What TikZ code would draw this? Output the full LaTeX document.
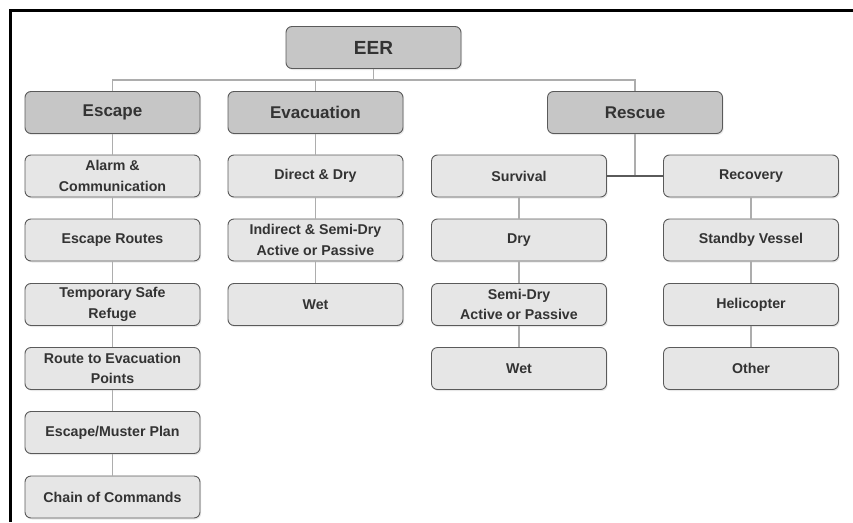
\documentclass[tikz,border=0pt]{standalone}
\usepackage{fontspec}
\setmainfont{Liberation Sans}
\usetikzlibrary{shadows}

\definecolor{headfill}{HTML}{C6C6C6}
\definecolor{itemfill}{HTML}{E6E6E6}
\definecolor{boxline}{HTML}{5A5A5A}
\definecolor{linkgray}{HTML}{ADADAD}
\definecolor{textgray}{HTML}{333333}

\tikzset{
  headbox/.style={draw=boxline, fill=headfill, rounded corners=6pt, line width=0.9pt,
    minimum width=175pt, minimum height=42pt, text=textgray,
    font=\fontsize{17}{20}\selectfont\bfseries,
    drop shadow={opacity=0.18, shadow xshift=1.2pt, shadow yshift=-1.5pt}},
  itembox/.style={draw=boxline, fill=itemfill, rounded corners=6pt, line width=0.9pt,
    minimum width=175pt, minimum height=42pt, text=textgray, align=center,
    font=\fontsize{14.2}{20.5}\selectfont\bfseries,
    drop shadow={opacity=0.18, shadow xshift=1.2pt, shadow yshift=-1.5pt}},
  link/.style={draw=linkgray, line width=1.3pt},
  darklink/.style={draw=boxline, line width=1.3pt}
}

\begin{document}
\begin{tikzpicture}[x=1pt, y=-1pt]

    % Fix the size of the picture
    \useasboundingbox (0,0) rectangle (853,522);

    % Frame on the left and the top
    \draw[line width=2.5pt] (853,10.5) -- (10.5,10.5) -- (10.5,522);

    % Top of the tree
    \node[headbox, font=\fontsize{19}{22}\selectfont\bfseries] (eer) at (373.5,47.5) {EER};

    % The three main branches
    \node[headbox] (escape) at (112.5,112.5) {Escape};
    \node[headbox] (evac) at (315.5,112.5) {Evacuation};
    \node[headbox] (rescue) at (635,112.5) {Rescue};

    % Escape column
    \node[itembox] (alarm) at (112.5,176) {Alarm \&\\Communication};
    \node[itembox] (routes) at (112.5,240) {Escape Routes};
    \node[itembox] (refuge) at (112.5,304.5) {Temporary Safe\\Refuge};
    \node[itembox] (evacpts) at (112.5,368.5) {Route to Evacuation\\Points};
    \node[itembox] (muster) at (112.5,432.5) {Escape/Muster Plan};
    \node[itembox] (chain) at (112.5,497) {Chain of Commands};

    % Evacuation column
    \node[itembox] (directdry) at (315.5,176) {Direct \& Dry};
    \node[itembox] (indirect) at (315.5,240) {Indirect \& Semi-Dry\\Active or Passive};
    \node[itembox] (evacwet) at (315.5,304.5) {Wet};

    % Rescue: survival column
    \node[itembox] (survival) at (519,176) {Survival};
    \node[itembox] (dry) at (519,240) {Dry};
    \node[itembox] (semidry) at (519,304.5) {Semi-Dry\\Active or Passive};
    \node[itembox] (survwet) at (519,368.5) {Wet};

    % Rescue: recovery column
    \node[itembox] (recovery) at (751,176) {Recovery};
    \node[itembox] (standby) at (751,240) {Standby Vessel};
    \node[itembox] (heli) at (751,304.5) {Helicopter};
    \node[itembox] (other) at (751,368.5) {Other};

    % Bus under EER
    \coordinate (bus) at (373.5,80);

    % Lines from EER to the branches
    \draw[link] (eer) -- (bus);
    \draw[link] (escape) -- (escape.north |- bus) -- (rescue.north |- bus) -- (rescue);
    \draw[link] (evac) -- (evac.north |- bus);

    % Escape chain
    \draw[link] (escape) -- (alarm);
    \draw[link] (alarm) -- (routes);
    \draw[link] (routes) -- (refuge);
    \draw[link] (refuge) -- (evacpts);
    \draw[link] (evacpts) -- (muster);
    \draw[link] (muster) -- (chain);

    % Evacuation chain
    \draw[link] (evac) -- (directdry);
    \draw[link] (directdry) -- (indirect);
    \draw[link] (indirect) -- (evacwet);

    % Rescue split into survival and recovery
    \coordinate (split) at (rescue.south |- survival.east);
    \draw[link] (rescue) -- (split);
    \draw[darklink] (survival) -- (recovery);

    % Survival chain
    \draw[link] (survival) -- (dry);
    \draw[link] (dry) -- (semidry);
    \draw[link] (semidry) -- (survwet);

    % Recovery chain
    \draw[link] (recovery) -- (standby);
    \draw[link] (standby) -- (heli);
    \draw[link] (heli) -- (other);

\end{tikzpicture}
\end{document}
